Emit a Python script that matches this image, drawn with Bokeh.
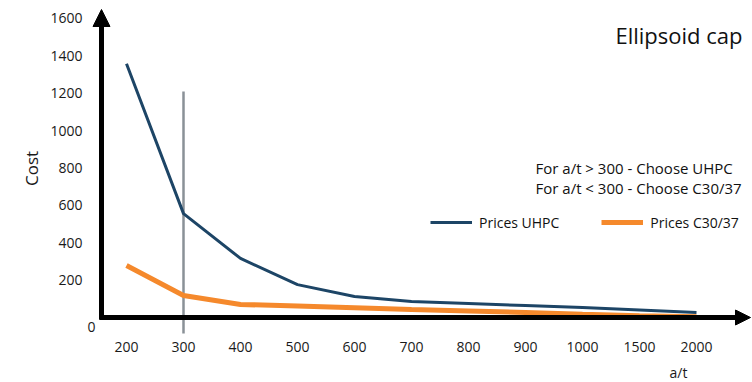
from bokeh.plotting import figure
from bokeh.models import (Range1d, LinearAxis, FixedTicker, Label, Arrow, NormalHead,
                          Legend, LegendItem)
from bokeh.embed import file_html
from bokeh.resources import INLINE

# ---- data ----
categories = ["200", "300", "400", "500", "600", "700", "800", "900", "1000", "1500", "2000"]
prices_uhpc = [1358, 556, 316, 176, 112, 86, 75, 64, 53, 40, 27]
prices_c3037 = [278, 118, 70, 61, 52, 43, 35, 27, 18, 10, 4]
y_ticks = [200, 400, 600, 800, 1000, 1200, 1400, 1600]
threshold_category = "300"
threshold_span = [-85, 1210]
note_lines = ["For a/t > 300 - Choose UHPC", "For a/t < 300 - Choose C30/37"]
x_title = "a/t"

FONT = "Open Sans"

# ---- pixel <-> data helpers (layout only) ----
X0PX, DX = 126.0, 57.0
Y0PX, KY = 317.0, 0.18688
def xd(px):
    return (px - X0PX) / DX
def yd(py):
    return (Y0PX - py) / KY

FL = 84   # frame left
FB = 336  # frame bottom
xs = list(range(len(categories)))

p = figure(width=752, height=382, output_backend="svg", toolbar_location=None,
           x_range=Range1d(xd(FL), xd(752)), y_range=Range1d(yd(FB), yd(0)),
           x_axis_type=None, y_axis_type=None,
           min_border_left=FL, min_border_right=0, min_border_top=0,
           min_border_bottom=382 - FB)
p.outline_line_color = None
p.background_fill_color = "white"
p.border_fill_color = "white"
p.grid.visible = False

def style_axis(ax, standoff):
    ax.axis_line_color = None
    ax.major_tick_line_color = None
    ax.minor_tick_line_color = None
    ax.major_tick_in = 0
    ax.major_tick_out = 0
    ax.minor_tick_in = 0
    ax.minor_tick_out = 0
    ax.major_label_standoff = standoff
    ax.major_label_text_font = FONT
    ax.major_label_text_font_size = "14px"
    ax.major_label_text_color = "#1a1a1a"

# y axis (labels only; line drawn as arrow)
yaxis = LinearAxis(ticker=FixedTicker(ticks=y_ticks), axis_label="Cost")
style_axis(yaxis, 2)
yaxis.axis_label_text_font = FONT
yaxis.axis_label_text_font_size = "17px"
yaxis.axis_label_text_font_style = "normal"
yaxis.axis_label_text_color = "#1a1a1a"
yaxis.axis_label_standoff = 4
p.add_layout(yaxis, "left")

xaxis = LinearAxis(ticker=FixedTicker(ticks=xs),
                   major_label_overrides={i: c for i, c in zip(xs, categories)})
style_axis(xaxis, 5)
p.add_layout(xaxis, "below")

# x title as an unclipped label in the bottom panel
p.add_layout(Label(x=xd(678), y=yd(372), text=x_title, text_font=FONT, text_font_size="14px",
                   text_align="center", text_baseline="middle", text_color="#1a1a1a"), "below")

# threshold line
ti = categories.index(threshold_category)
p.segment(x0=[ti], y0=[threshold_span[0]], x1=[ti], y1=[threshold_span[1]],
          line_color="#8a9197", line_width=2.5)

# series
r_u = p.line(xs, prices_uhpc, line_color="#1d4566", line_width=3)
r_c = p.line(xs, prices_c3037, line_color="#f5892c", line_width=5)

# axis arrows
p.add_layout(Arrow(end=NormalHead(size=17, fill_color="black", line_color="black"),
                   x_start=xd(101), y_start=yd(319), x_end=xd(101), y_end=yd(9),
                   line_color="black", line_width=5))
p.add_layout(Arrow(end=NormalHead(size=15, fill_color="black", line_color="black"),
                   x_start=xd(99), y_start=0, x_end=xd(750), y_end=0,
                   line_color="black", line_width=5))

# texts
p.add_layout(Label(x=xd(91), y=yd(326), text="0", text_font=FONT, text_font_size="14px",
                   text_align="center", text_baseline="middle", text_color="#1a1a1a"))
p.add_layout(Label(x=xd(742), y=yd(34), text="Ellipsoid cap", text_font=FONT,
                   text_font_size="22px", text_align="right", text_baseline="middle",
                   text_color="#111111"))
for k, t in enumerate(note_lines):
    p.add_layout(Label(x=xd(535), y=yd(167 + 20 * k), text=t, text_font=FONT,
                       text_font_size="15px", text_align="left", text_baseline="middle",
                       text_color="#111111"))

legend = Legend(items=[LegendItem(label="Prices UHPC", renderers=[r_u]),
                       LegendItem(label="Prices C30/37", renderers=[r_c])],
                orientation="horizontal", location=(430 - FL, FB - 232),
                glyph_width=42, glyph_height=20, label_standoff=7, spacing=42,
                padding=0, margin=0, border_line_color=None, background_fill_alpha=0,
                label_text_font=FONT, label_text_font_size="14px", label_text_color="#111111")
p.add_layout(legend, "center")

open("out.html", "w").write(file_html(p, INLINE))
